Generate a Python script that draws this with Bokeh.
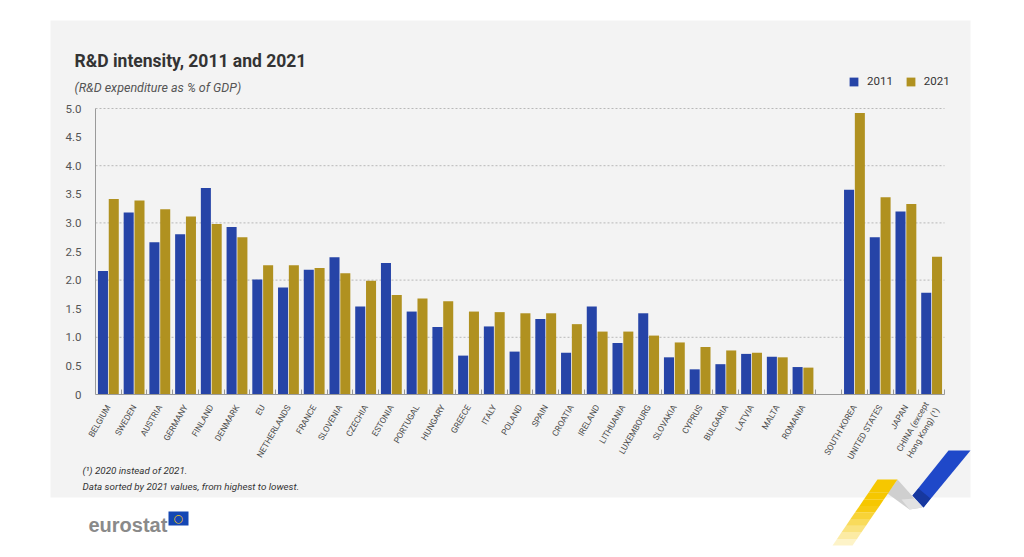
import math
from bokeh.plotting import figure
from bokeh.models import (ColumnDataSource, Range1d, FixedTicker,
                          NumeralTickFormatter, Legend, LegendItem)
from bokeh.core.properties import value
from bokeh.transform import dodge
from bokeh.embed import file_html
from bokeh.resources import INLINE

# ---------------- data ----------------
eu_countries = ["BELGIUM", "SWEDEN", "AUSTRIA", "GERMANY", "FINLAND", "DENMARK", "EU",
                "NETHERLANDS", "FRANCE", "SLOVENIA", "CZECHIA", "ESTONIA", "PORTUGAL",
                "HUNGARY", "GREECE", "ITALY", "POLAND", "SPAIN", "CROATIA", "IRELAND",
                "LITHUANIA", "LUXEMBOURG", "SLOVAKIA", "CYPRUS", "BULGARIA", "LATVIA",
                "MALTA", "ROMANIA"]
other_countries = ["SOUTH KOREA", "UNITED STATES", "JAPAN", "CHINA (except\nHong Kong) (\u00b9)"]

eu_2011 = [2.16, 3.18, 2.66, 2.80, 3.61, 2.93, 2.01, 1.87, 2.18, 2.40, 1.54, 2.30, 1.45,
           1.18, 0.68, 1.19, 0.75, 1.32, 0.73, 1.54, 0.90, 1.42, 0.65, 0.44, 0.53, 0.71,
           0.66, 0.48]
eu_2021 = [3.42, 3.39, 3.24, 3.11, 2.98, 2.75, 2.26, 2.26, 2.21, 2.12, 1.99, 1.74, 1.68,
           1.63, 1.45, 1.44, 1.42, 1.42, 1.23, 1.10, 1.10, 1.03, 0.91, 0.83, 0.77, 0.73,
           0.65, 0.47]
other_2011 = [3.58, 2.75, 3.20, 1.78]
other_2021 = [4.92, 3.45, 3.33, 2.41]

y_ticks = [0, 0.5, 1.0, 1.5, 2.0, 2.5, 3.0, 3.5, 4.0, 4.5, 5.0]
grid_ticks = [1.0, 2.0, 3.0, 4.0, 5.0]
y_max = 5.0

title_text = "R&D intensity, 2011 and 2021"
subtitle_text = "(R&D expenditure as % of GDP)"
note1 = "(\u00b9) 2020 instead of 2021."
note2 = "Data sorted by 2021 values, from highest to lowest."
series_names = ["2011", "2021"]

BLUE = "#2644A7"
GOLD = "#B09120"
PANEL = "#f3f3f3"
FONT = "Roboto"

# ---------------- layout constants (page pixels) ----------------
W, H = 1016, 549
CH_LEFT, CH_RIGHT = 95, 944     # chart area (x)
CH_TOP, CH_BOTTOM = 108, 394    # chart area (y): y_max .. 0
FRAME_LEFT = CH_LEFT - (W - CH_RIGHT)   # symmetric padding around the chart

# slot positions: EU block, one empty slot, then the non-EU block
countries = eu_countries + other_countries
positions = list(range(len(eu_countries))) + \
    [len(eu_countries) + 1 + i for i in range(len(other_countries))]
n_slots = len(countries) + 1
slot_px = (CH_RIGHT - CH_LEFT) / n_slots
pad_slots = (CH_LEFT - FRAME_LEFT) / slot_px
px_per_unit = (CH_BOTTOM - CH_TOP) / y_max

x_range = Range1d(-0.5 - pad_slots, n_slots - 0.5 + pad_slots)
y_range = Range1d(-(H - CH_BOTTOM) / px_per_unit, y_max + CH_TOP / px_per_unit)

p = figure(width=W, height=H, output_backend="svg", toolbar_location=None,
           x_range=x_range, y_range=y_range,
           min_border_left=FRAME_LEFT, min_border_right=0, min_border_top=0,
           min_border_bottom=0)
p.title.visible = False
p.border_fill_color = "white"
p.background_fill_color = "white"
p.outline_line_color = None
p.extra_x_ranges = {"px": Range1d(FRAME_LEFT, W)}
p.extra_y_ranges = {"py": Range1d(H, 0)}
p.xgrid.visible = False
p.ygrid.visible = False

# grey panel
p.quad(left=[50], right=[970], top=[20], bottom=[497], x_range_name="px",
       y_range_name="py", fill_color=PANEL, line_color=None)

# dotted grid lines across the chart only
grid_src = ColumnDataSource(dict(y=grid_ticks))
p.segment(x0=-0.5, x1=n_slots - 0.5, y0="y", y1="y", source=grid_src,
          line_color="#b8b8b8", line_dash="2 2", line_width=1)

# bars
src = ColumnDataSource(dict(pos=positions, name=countries,
                            v2011=eu_2011 + other_2011,
                            v2021=eu_2021 + other_2021))
r1 = p.vbar(x=dodge("pos", -0.21), top="v2011", width=0.39,
            source=src, color=BLUE, line_color=None)
r2 = p.vbar(x=dodge("pos", 0.21), top="v2021", width=0.39,
            source=src, color=GOLD, line_color=None)

# axes (drawn at fixed positions inside the frame)
p.yaxis.fixed_location = -0.5
p.yaxis.bounds = (0, y_max)
p.yaxis.ticker = FixedTicker(ticks=y_ticks)
p.yaxis.formatter = NumeralTickFormatter(format="0.0")
p.yaxis.major_label_overrides = {0: "0"}
p.yaxis.axis_line_color = "#9a9a9a"
p.yaxis.major_tick_line_color = None
p.yaxis.minor_tick_line_color = None
p.yaxis.major_label_text_font = FONT
p.yaxis.major_label_text_font_size = "11.5px"
p.yaxis.major_label_text_color = "#555555"
p.yaxis.major_label_standoff = 8

boundaries = [i + 0.5 for i in range(n_slots)]
p.xaxis.fixed_location = 0
p.xaxis.bounds = (-0.5, n_slots - 0.5)
p.xaxis.ticker = FixedTicker(ticks=positions, minor_ticks=boundaries)
p.xaxis.major_label_overrides = {pos: name for pos, name in zip(positions, countries)}
p.xaxis.axis_line_color = "#9a9a9a"
p.xaxis.major_tick_line_color = None
p.xaxis.minor_tick_line_color = "#999999"
p.xaxis.minor_tick_in = 5
p.xaxis.minor_tick_out = 0
p.xaxis.major_label_orientation = math.radians(60)
p.xaxis.major_label_text_font = FONT
p.xaxis.major_label_text_font_size = "8.5px"
p.xaxis.major_label_text_color = "#4a4a4a"
p.xaxis.major_label_standoff = 5

# legend (location = bottom-left corner, relative to the frame's bottom-left)
legend = Legend(items=[LegendItem(label=series_names[0], renderers=[r1]),
                       LegendItem(label=series_names[1], renderers=[r2])],
                orientation="horizontal", location=(848 - FRAME_LEFT, H - 88),
                glyph_width=11, glyph_height=11, label_standoff=8, spacing=12,
                padding=0, margin=0, border_line_color=None, background_fill_alpha=0,
                label_text_font=FONT, label_text_font_size="11.5px",
                label_text_color="#333333", label_height=11, label_width=10)
p.add_layout(legend)

# titles & notes (page pixel coordinates)
def txt(x, y, s, size, style="normal", color="#333333", font=FONT, align="left",
        baseline="alphabetic"):
    p.text(x=[x], y=[y], text=[s], x_range_name="px", y_range_name="py",
           text_font=value(font), text_font_size=size, text_font_style=style,
           text_color=color, text_align=align, text_baseline=baseline)

txt(74, 60.5, title_text, "17.5px", "bold", "#333333")
txt(74, 87, subtitle_text, "12.5px", "italic", "#555555")
txt(82, 469.5, note1, "9.8px", "italic", "#333333")
txt(82, 486, note2, "9.8px", "italic", "#333333")

# eurostat logo
txt(88, 524.5, "eurostat", "20px", "bold", "#8a8a8a", font="Liberation Sans")
p.quad(left=[168], right=[188], top=[511], bottom=[525], x_range_name="px",
       y_range_name="py", fill_color="#1447b4", line_color=None)
txt(178, 518, "\u25cb", "11px", "normal", "#f0c419", font="DejaVu Sans",
    align="center", baseline="middle")

# decorative ribbon
def poly(xs, ys, color, alpha=1.0):
    p.patch(x=xs, y=ys, x_range_name="px", y_range_name="py",
            fill_color=color, fill_alpha=alpha, line_color=None)

poly([887, 897, 922, 909], [493, 479, 507, 509], "#cfcfcf")
poly([901, 914, 922, 909], [499, 498, 507, 509], "#e2e2e2")
tl, tr, bl, br = (877, 479), (897, 479), (832, 545), (852, 545)
n = 10
for i in range(n):
    t0, t1 = i / n, (i + 1) / n
    xs = [tl[0] + (bl[0] - tl[0]) * t0, tr[0] + (br[0] - tr[0]) * t0,
          tr[0] + (br[0] - tr[0]) * t1, tl[0] + (bl[0] - tl[0]) * t1]
    ys = [tl[1] + (bl[1] - tl[1]) * t0, tr[1] + (br[1] - tr[1]) * t0,
          tr[1] + (br[1] - tr[1]) * t1, tl[1] + (bl[1] - tl[1]) * t1]
    alpha = 1.0 if t0 < 0.35 else max(0.05, 1.0 - (t0 - 0.35) / 0.7)
    poly(xs, ys, "#f6c700", alpha)
poly([912, 948, 970, 923], [495, 450, 450, 507], "#1f48c9")
poly([912, 923, 930, 918], [495, 507, 498, 488], "#17389f")

open("out.html", "w").write(file_html(p, INLINE))
